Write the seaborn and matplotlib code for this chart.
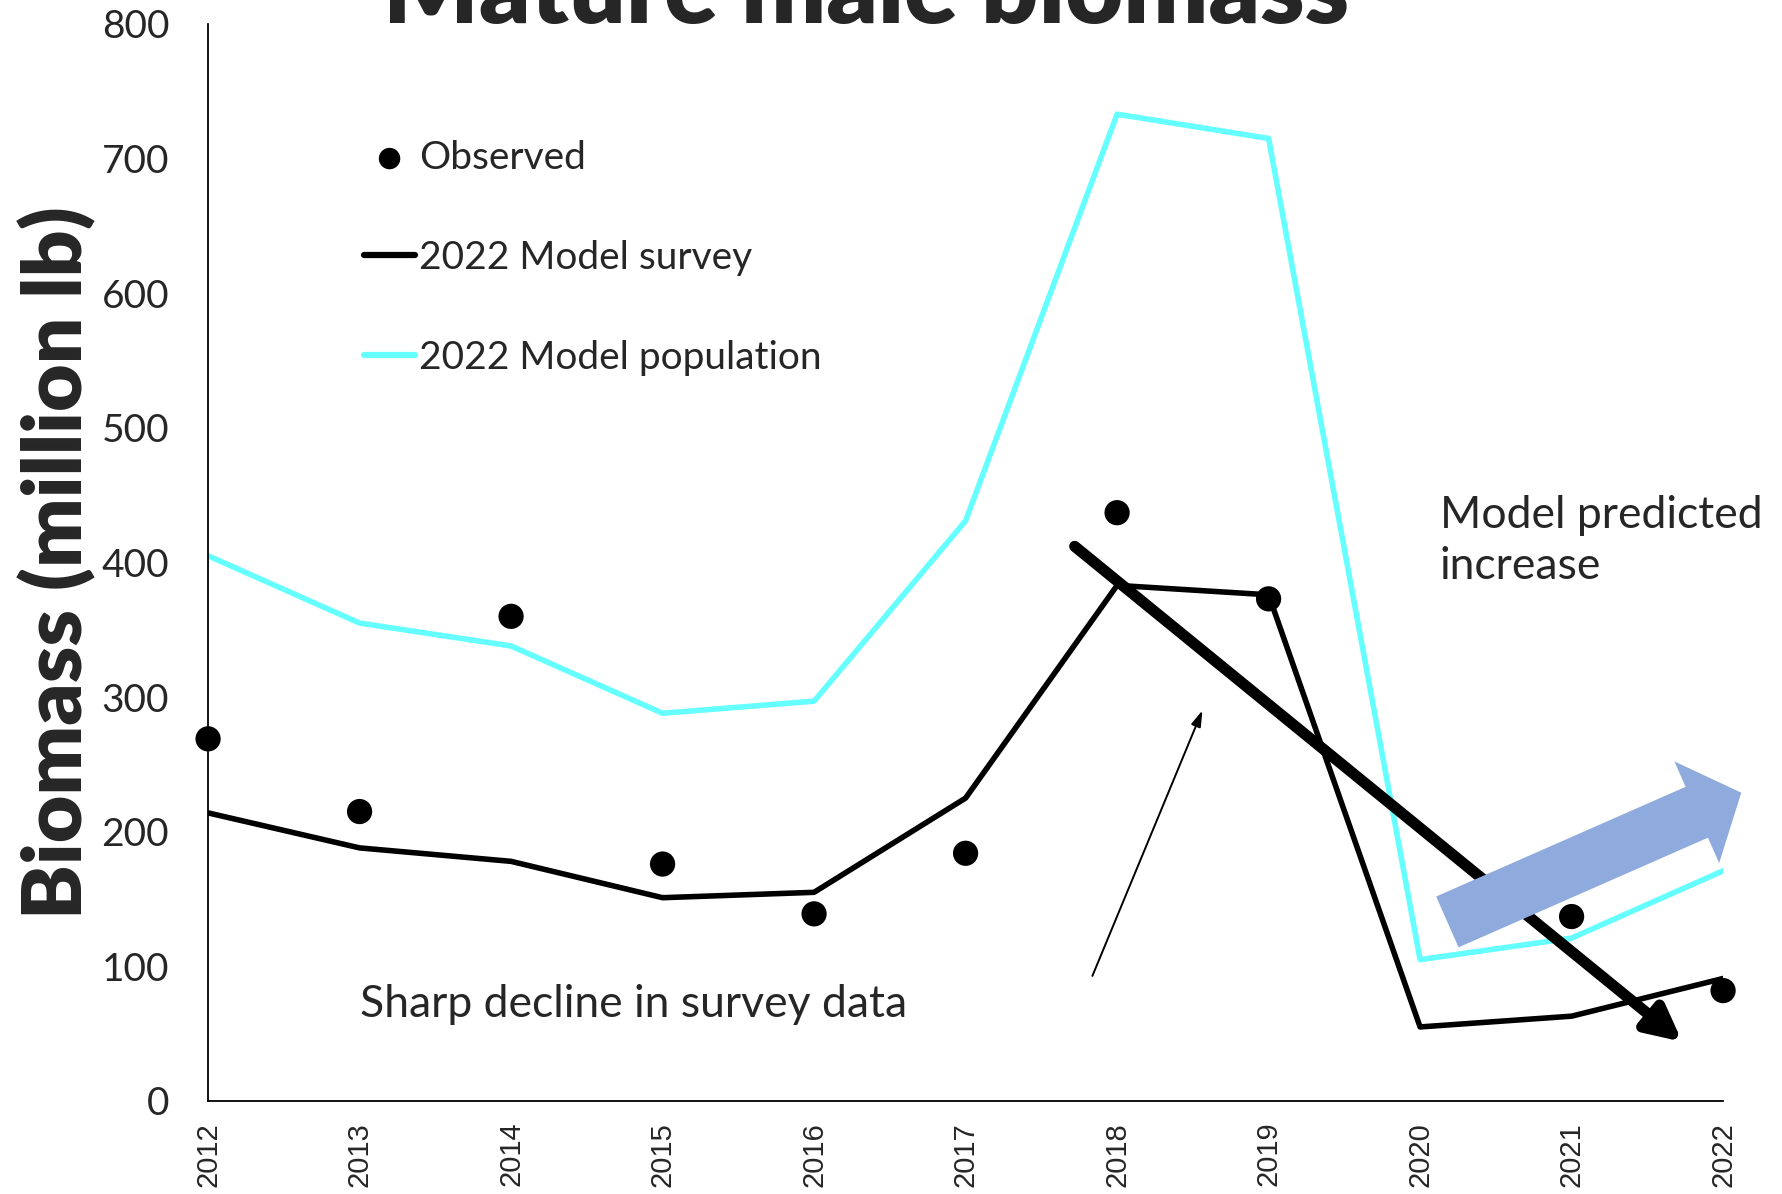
import numpy as np
import matplotlib
matplotlib.use("Agg")
import matplotlib.pyplot as plt
import seaborn as sns

years = [2012, 2013, 2014, 2015, 2016, 2017, 2018, 2019, 2020, 2021, 2022]
observed = [269, 215, 360, 176, 139, 184, 437, 373, np.nan, 137, 82]
model_survey = [214, 188, 178, 151, 155, 225, 383, 376, 55, 63, 91]
model_population = [405, 355, 338, 288, 297, 431, 733, 715, 105, 121, 171]

sns.set_theme(style="white")
plt.rcParams["font.family"] = ["Lato", "DejaVu Sans"]

fig = plt.figure(figsize=(17.83, 11.94), dpi=100)
ax = fig.add_axes([0.1167, 0.0779, 0.8497, 0.902])

# model lines
sns.lineplot(x=years, y=model_population, color="#66ffff", linewidth=4, ax=ax,
             label="2022 Model population")
sns.lineplot(x=years, y=model_survey, color="black", linewidth=4, ax=ax,
             label="2022 Model survey")
# survey points
sns.scatterplot(x=years, y=observed, color="black", s=330, edgecolor="none",
                ax=ax, label="Observed", zorder=5, clip_on=False)

ax.set_xlim(2012, 2022)
ax.set_ylim(0, 800)
ax.set_xticks(years)
ax.set_xticklabels([str(y) for y in years], rotation=90,
                   fontfamily="Liberation Sans", fontsize=21)
ax.set_yticks(range(0, 801, 100))
ax.tick_params(axis="y", labelsize=28, length=9, width=1.3, color="black", pad=19)
ax.tick_params(axis="x", length=9, width=1.3, color="black", pad=6)

for side in ["top", "right"]:
    ax.spines[side].set_visible(False)
for side in ["left", "bottom"]:
    ax.spines[side].set_color("black")
    ax.spines[side].set_linewidth(1.3)

ax.set_ylabel("Biomass (million lb)", fontsize=59, fontweight="heavy", labelpad=4)
ax.set_xlabel("")

# legend
handles, labels = ax.get_legend_handles_labels()
order = [labels.index("Observed"), labels.index("2022 Model survey"),
         labels.index("2022 Model population")]
leg = ax.legend([handles[i] for i in order], [labels[i] for i in order],
                loc="upper left", bbox_to_anchor=(0.08, 0.925), frameon=False,
                fontsize=28, handlelength=1.3, handletextpad=0.12,
                labelspacing=1.65, markerscale=0.85)
for h in leg.get_lines():
    h.set_linewidth(4.5)

# title, cut off at the top like the original slide
fig.text(0.486, 0.981, "Mature male biomass", ha="center", va="baseline",
         fontsize=72, fontweight="heavy")

# annotations
ax.text(2013.0, 72, "Sharp decline in survey data", fontsize=32, va="center")
ax.text(2020.13, 416, "Model predicted\nincrease", fontsize=32, va="center",
        linespacing=1.3)

ax.annotate("", xy=(2018.57, 292), xytext=(2017.83, 91),
            arrowprops=dict(arrowstyle="-|>,head_length=0.8,head_width=0.25",
                            color="black", linewidth=1.4))
ax.annotate("", xy=(2021.73, 44), xytext=(2017.72, 412),
            arrowprops=dict(arrowstyle="-|>,head_length=1.7,head_width=0.85",
                            color="black", linewidth=8, shrinkA=0, shrinkB=0))
ax.annotate("", xy=(2022.12, 229), xytext=(2020.18, 133), annotation_clip=False,
            arrowprops=dict(arrowstyle="simple,head_length=1.4,head_width=3.2,tail_width=1.6",
                            color="#8faadc", linewidth=0, mutation_scale=25,
                            shrinkA=0, shrinkB=0))

fig.savefig("out.png", dpi=100)
